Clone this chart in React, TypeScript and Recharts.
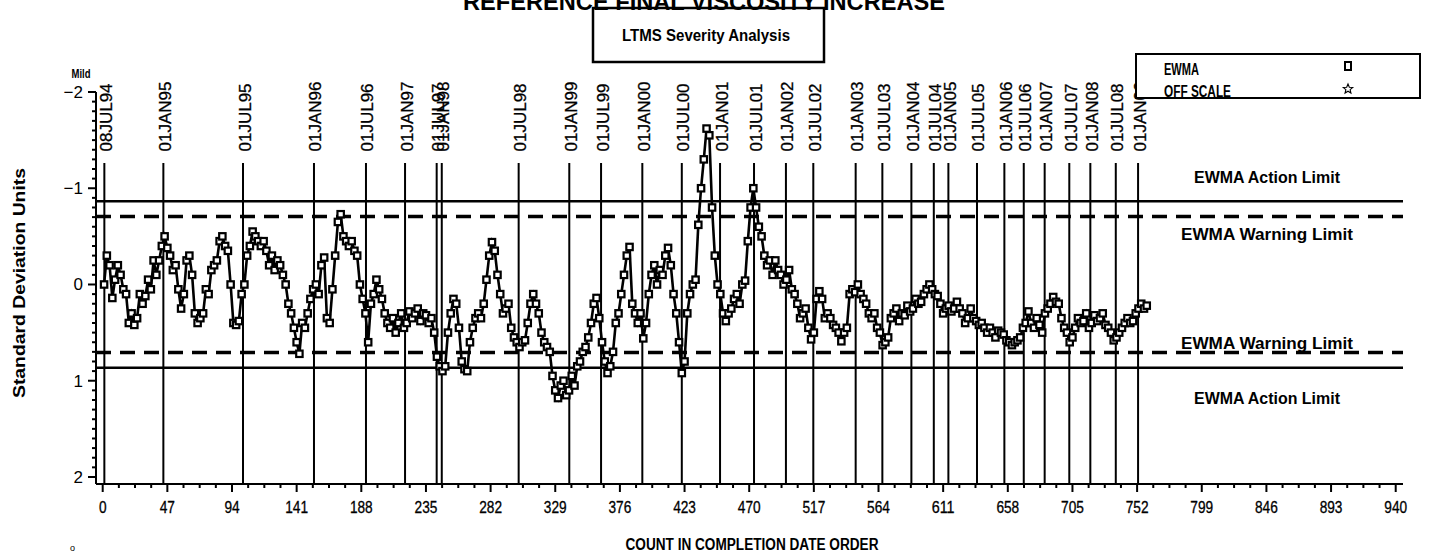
import React from "react";
import {
  LineChart,
  Line,
  XAxis,
  YAxis,
  ReferenceLine,
  Legend,
  Customized,
} from "recharts";

// EWMA values, one every STEP counts starting at FIRST_COUNT
const FIRST_COUNT = 1;
const STEP = 2;
const ewma = [
  0.0, -0.3, -0.2, 0.14, -0.05, -0.2, -0.1, 0.05, 0.1, 0.4,
  0.3, 0.42, 0.35, 0.1, 0.2, 0.12, -0.05, 0.05, -0.25, -0.1,
  -0.25, -0.4, -0.5, -0.38, -0.3, -0.15, -0.2, 0.05, 0.25, 0.1,
  -0.25, -0.3, -0.1, 0.3, 0.4, 0.35, 0.3, 0.05, 0.1, -0.15,
  -0.2, -0.25, -0.45, -0.5, -0.4, -0.35, 0.0, 0.4, 0.42, 0.38,
  0.1, 0.0, -0.3, -0.4, -0.55, -0.5, -0.45, -0.4, -0.45, -0.35,
  -0.2, -0.3, -0.15, -0.25, -0.2, -0.1, 0.0, 0.2, 0.3, 0.45,
  0.6, 0.72, 0.4, 0.45, 0.3, 0.15, 0.05, 0.0, 0.1, -0.2,
  -0.28, 0.35, 0.4, 0.05, -0.3, -0.65, -0.73, -0.5, -0.45, -0.4,
  -0.45, -0.35, -0.3, 0.0, 0.15, 0.3, 0.6, 0.2, 0.1, -0.05,
  0.05, 0.15, 0.3, 0.4, 0.45, 0.35, 0.5, 0.4, 0.3, 0.45,
  0.4, 0.28, 0.35, 0.3, 0.25, 0.38, 0.3, 0.32, 0.4, 0.35,
  0.5, 0.75, 0.85, 0.9, 0.85, 0.5, 0.3, 0.15, 0.2, 0.45,
  0.8, 0.88, 0.9, 0.6, 0.45, 0.35, 0.3, 0.35, 0.2, -0.05,
  -0.3, -0.44, -0.35, -0.1, 0.1, 0.3, 0.25, 0.2, 0.45, 0.55,
  0.6, 0.65, 0.6, 0.58, 0.4, 0.2, 0.1, 0.2, 0.3, 0.5,
  0.6, 0.65, 0.7, 0.95, 1.1, 1.18, 1.05, 1.0, 1.15, 1.1,
  0.95, 1.05, 0.85, 0.8, 0.7, 0.65, 0.55, 0.4, 0.2, 0.14,
  0.35, 0.6, 0.8, 0.92, 0.85, 0.7, 0.4, 0.3, 0.1, -0.1,
  -0.3, -0.39, 0.2, 0.3, 0.4, 0.3, 0.56, 0.4, 0.1, -0.1,
  -0.2, 0.0, -0.15, -0.1, -0.3, -0.38, -0.2, 0.1, 0.3, 0.6,
  0.92, 0.8, 0.3, 0.1, 0.0, -0.05, -0.62, -1.0, -1.3, -1.62,
  -1.55, -0.8, -0.3, 0.0, 0.1, 0.3, 0.38, 0.3, 0.25, 0.15,
  0.1, 0.2, 0.0, -0.04, -0.45, -0.8, -1.0, -0.8, -0.6, -0.5,
  -0.3, -0.2, -0.25, -0.1, -0.25, -0.15, -0.1, 0.0, -0.05, -0.15,
  0.05, 0.1, 0.2, 0.35, 0.3, 0.25, 0.45, 0.57, 0.5, 0.15,
  0.07, 0.15, 0.35, 0.3, 0.35, 0.42, 0.45, 0.5, 0.59, 0.5,
  0.45, 0.1, 0.05, 0.08, 0.0, 0.1, 0.15, 0.2, 0.3, 0.35,
  0.3, 0.45, 0.5, 0.63, 0.6, 0.55, 0.35, 0.3, 0.25, 0.38,
  0.3, 0.32, 0.22, 0.28, 0.25, 0.15, 0.2, 0.18, 0.1, 0.05,
  0.0, 0.05, 0.1, 0.12, 0.2, 0.3, 0.25, 0.22, 0.28, 0.25,
  0.18, 0.25, 0.3, 0.4, 0.35, 0.25, 0.35, 0.38, 0.42, 0.4,
  0.45, 0.5, 0.45, 0.5, 0.55, 0.48, 0.5, 0.52, 0.58, 0.6,
  0.63, 0.6, 0.58, 0.55, 0.45, 0.4, 0.28, 0.4, 0.45, 0.35,
  0.42, 0.5, 0.3, 0.25, 0.2, 0.13, 0.18, 0.2, 0.35, 0.45,
  0.5, 0.6, 0.55, 0.45, 0.35, 0.4, 0.38, 0.3, 0.45, 0.4,
  0.32, 0.38, 0.35, 0.3, 0.42, 0.45, 0.5, 0.58, 0.55, 0.5,
  0.45, 0.4, 0.35, 0.4, 0.38, 0.3, 0.25, 0.2, 0.25, 0.22,
];

const xMajor = [
  0, 47, 94, 141, 188, 235, 282, 329, 376, 423, 470, 517, 564, 611, 658,
  705, 752, 799, 846, 893, 940,
];
const yMajor = [-2, -1, 0, 1, 2];

const dateLabels = [
  "08JUL94", "01JAN95", "01JUL95", "01JAN96", "01JUL96", "01JAN97",
  "01JUL97", "01JAN98", "01JUL98", "01JAN99", "01JUL99", "01JAN00",
  "01JUL00", "01JAN01", "01JUL01", "01JAN02", "01JUL02", "01JAN03",
  "01JUL03", "01JAN04", "01JUL04", "01JAN05", "01JUL05", "01JAN06",
  "01JUL06", "01JAN07", "01JUL07", "01JAN08", "01JUL08", "01JAN09",
];
const dateCounts = [
  1.2, 44.1, 102, 153.6, 191.4, 219.8, 242.8, 246.5, 302.4, 339.2, 362.3,
  392.3, 421, 448.8, 473.5, 496.7, 516.6, 547.4, 566.8, 587.9, 604.2, 614.8,
  635.6, 655.5, 669.6, 684.8, 702.7, 718, 736.5, 752.7,
];

const limitValues = [-0.866, -0.707, 0.707, 0.866];
const limitNames = [
  "EWMA Action Limit",
  "EWMA Warning Limit",
  "EWMA Warning Limit",
  "EWMA Action Limit",
];

const data = ewma.map((v, i) => ({ count: FIRST_COUNT + i * STEP, ewma: v }));

const xTicks = xMajor.flatMap((t, i) =>
  i < xMajor.length - 1 ? [t, t + 11.75, t + 23.5, t + 35.25] : [t]
);
const yTicks: number[] = [];
for (let k = -20; k <= 20; k++) yTicks.push(k / 10);

const NARROW = "'Liberation Sans Narrow', 'Liberation Sans', Arial, sans-serif";
const SANS = "'Liberation Sans', Arial, sans-serif";

const XTick = (p: any) => {
  const v = p.payload.value;
  const major = xMajor.includes(v);
  return (
    <g>
      <line x1={p.x} x2={p.x} y1={p.y} y2={p.y + (major ? 8 : 4)} stroke="#000" strokeWidth={2} />
      {major && (
        <text
          x={p.x}
          y={p.y + 29}
          textAnchor="middle"
          fontFamily={NARROW}
          fontSize={16}
          textLength={String(v).length * 7.6}
          lengthAdjust="spacingAndGlyphs"
          stroke="#000"
          strokeWidth={0.3}
          fill="#000"
        >
          {v}
        </text>
      )}
    </g>
  );
};

const YTick = (p: any) => {
  const v = p.payload.value;
  const major = yMajor.includes(v);
  return (
    <g>
      <line x1={p.x} x2={p.x - (major ? 8 : 4)} y1={p.y} y2={p.y} stroke="#000" strokeWidth={2} />
      {major && (
        <text x={p.x - 13} y={p.y + 6} textAnchor="end" fontFamily={NARROW} fontSize={17} fill="#000">
          {v < 0 ? "\u2212" + Math.abs(v) : String(v)}
        </text>
      )}
    </g>
  );
};

const SquareDot = (p: any) => {
  if (p.cx == null || p.cy == null) return null;
  return (
    <rect
      key={p.key}
      x={p.cx - 3.2}
      y={p.cy - 3.2}
      width={6.4}
      height={6.4}
      fill="#fff"
      stroke="#000"
      strokeWidth={2.2}
    />
  );
};

const dateShape = (label: string) => (p: any) => {
  const yb = Math.max(p.y1, p.y2);
  return (
    <g>
      <line x1={p.x1} x2={p.x1} y1={163} y2={yb} stroke="#000" strokeWidth={2} />
      <text
        transform={`translate(${p.x1 + 7.5},151.5) rotate(-90)`}
        fontFamily={SANS}
        fontSize={17}
        stroke="#000"
        strokeWidth={0.3}
        fill="#000"
      >
        {label}
      </text>
    </g>
  );
};

const labelOffsets = [-18, 24, -4, 36];
const labelLengths = [146, 172, 172, 146];

const limitShape = (i: number) => (p: any) => {
  const dashed = i === 1 || i === 2;
  return (
    <g>
      <line
        x1={p.x1}
        x2={p.x2}
        y1={p.y1}
        y2={p.y2}
        stroke="#000"
        strokeWidth={dashed ? 3.5 : 2.5}
        strokeDasharray={dashed ? "15 9" : undefined}
      />
      <text
        x={1267}
        y={p.y1 + labelOffsets[i]}
        textAnchor="middle"
        fontFamily={NARROW}
        fontWeight="bold"
        fontSize={17}
        textLength={labelLengths[i]}
        lengthAdjust="spacingAndGlyphs"
        fill="#000"
      >
        {limitNames[i]}
      </text>
    </g>
  );
};

const Star = ({ cx, cy, r }: { cx: number; cy: number; r: number }) => {
  const pts: string[] = [];
  for (let k = 0; k < 10; k++) {
    const rad = k % 2 === 0 ? r : r * 0.45;
    const a = -Math.PI / 2 + (k * Math.PI) / 5;
    pts.push(`${cx + rad * Math.cos(a)},${cy + rad * Math.sin(a)}`);
  }
  return <polygon points={pts.join(" ")} fill="none" stroke="#000" strokeWidth={1.1} />;
};

const LegendBox = (props: any) => {
  const items = props.payload || [];
  return (
    <svg width={286} height={46} style={{ display: "block" }}>
      <rect x={1} y={1} width={284} height={44} fill="#fff" stroke="#000" strokeWidth={2} />
      {items.map((it: any, i: number) => (
        <g key={it.value}>
          <text
            x={29}
            y={22 + i * 22}
            fontFamily={NARROW}
            fontWeight="bold"
            fontSize={16}
            textLength={it.value === "EWMA" ? 35 : 67}
            lengthAdjust="spacingAndGlyphs"
            fill="#000"
          >
            {it.value}
          </text>
          {it.type === "star" ? (
            <Star cx={213} cy={36} r={5} />
          ) : (
            <rect x={210} y={9} width={6} height={8} fill="#fff" stroke="#000" strokeWidth={2} />
          )}
        </g>
      ))}
    </svg>
  );
};

const Decorations = () => (
  <g>
    <rect x={593} y={8} width={231} height={54} fill="none" stroke="#000" strokeWidth={2.5} />
    <text
      x={704}
      y={10}
      textAnchor="middle"
      fontFamily={SANS}
      fontWeight="bold"
      fontSize={24}
      textLength={482}
      lengthAdjust="spacingAndGlyphs"
      fill="#000"
    >
      REFERENCE FINAL VISCOSITY INCREASE
    </text>
    <text
      x={706}
      y={41}
      textAnchor="middle"
      fontFamily={NARROW}
      fontWeight="bold"
      fontSize={16}
      textLength={168}
      lengthAdjust="spacingAndGlyphs"
      fill="#000"
    >
      LTMS Severity Analysis
    </text>
    <text
      x={81}
      y={78}
      textAnchor="middle"
      fontFamily={NARROW}
      fontWeight="bold"
      fontSize={12}
      textLength={19}
      lengthAdjust="spacingAndGlyphs"
      fill="#000"
    >
      Mild
    </text>
    <text
      transform="translate(25,283) rotate(-90)"
      textAnchor="middle"
      fontFamily={NARROW}
      fontWeight="bold"
      fontSize={17}
      textLength={230}
      lengthAdjust="spacingAndGlyphs"
      fill="#000"
    >
      Standard Deviation Units
    </text>
    <text
      x={752}
      y={550}
      textAnchor="middle"
      fontFamily={NARROW}
      fontWeight="bold"
      fontSize={16}
      textLength={253}
      lengthAdjust="spacingAndGlyphs"
      fill="#000"
    >
      COUNT IN COMPLETION DATE ORDER
    </text>
    <text x={70} y={551} fontFamily={SANS} fontSize={9} fill="#000">
      o
    </text>
  </g>
);

export default function App() {
  return (
    <div style={{ position: "absolute", left: 0, top: 0, background: "#fff" }}>
      <LineChart
        width={1431}
        height={556}
        data={data}
        margin={{ top: 92, right: 28, bottom: 32, left: 36 }}
      >
        <XAxis
          dataKey="count"
          type="number"
          domain={[-4.87, 945.3]}
          allowDataOverflow
          ticks={xTicks}
          interval={0}
          tick={<XTick />}
          tickLine={false}
          tickSize={0}
          tickMargin={0}
          height={40}
          axisLine={{ stroke: "#000", strokeWidth: 2 }}
        />
        <YAxis
          type="number"
          reversed
          domain={[-2, 2.073]}
          allowDataOverflow
          ticks={yTicks}
          interval={0}
          tick={<YTick />}
          tickLine={false}
          tickSize={0}
          tickMargin={0}
          width={60}
          axisLine={{ stroke: "#000", strokeWidth: 2 }}
        />
        {dateCounts.map((c, i) => (
          <ReferenceLine key={dateLabels[i] + i} x={c} shape={dateShape(dateLabels[i])} />
        ))}
        {limitValues.map((v, i) => (
          <ReferenceLine key={"lim" + i} y={v} shape={limitShape(i)} />
        ))}
        <Line
          type="linear"
          dataKey="ewma"
          name="EWMA"
          stroke="#000"
          strokeWidth={2.6}
          dot={SquareDot}
          activeDot={false}
          legendType="square"
          isAnimationActive={false}
        />
        <Line
          type="linear"
          dataKey="offScale"
          name="OFF SCALE"
          stroke="#000"
          dot={false}
          legendType="star"
          isAnimationActive={false}
        />
        <Legend
          layout="horizontal"
          verticalAlign="middle"
          align="center"
          wrapperStyle={{ position: "absolute", left: 1135, top: 53, width: 286, height: 46 }}
          content={LegendBox}
        />
        <Customized component={Decorations} />
      </LineChart>
    </div>
  );
}
